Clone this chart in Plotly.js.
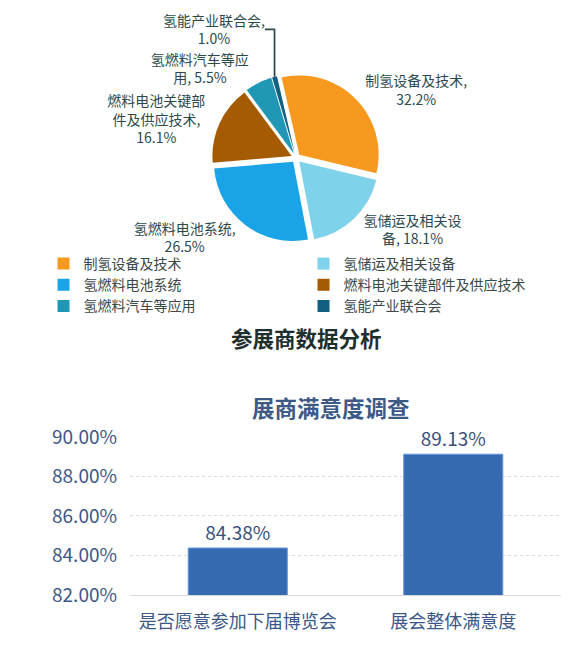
<!DOCTYPE html>
<html>
<head>
<meta charset="utf-8">
<script src="https://cdn.plot.ly/plotly-3.0.1.min.js"></script>
<style>
  html, body { margin: 0; padding: 0; background: #ffffff; }
  #chart { width: 588px; height: 659px; }
</style>
</head>
<body>
<div id="chart"></div>
<script>
  // pie: exhibitor categories (%)
  const pieNames = ['制氢设备及技术', '氢储运及相关设备', '氢燃料电池系统', '燃料电池关键部件及供应技术', '氢燃料汽车等应用', '氢能产业联合会'];
  const pieValues = [32.2, 18.1, 26.5, 16.1, 5.5, 1.0];
  // label text as it wraps in the picture (value gets appended)
  const pieLabelHeads = ['制氢设备及技术,<br>', '氢储运及相关设<br>备, ', '氢燃料电池系统,<br>', '燃料电池关键部<br>件及供应技术,<br>', '氢燃料汽车等应<br>用, ', '氢能产业联合会,<br>'];
  const pieColors = ['#f7981f', '#7ed2ea', '#1ba3e7', '#a55b02', '#2197b6', '#135f80'];

  // bar: satisfaction survey (%)
  const barCats = ['是否愿意参加下届博览会', '展会整体满意度'];
  const barValues = [84.38, 89.13];
  const yTicks = [82, 84, 86, 88, 90];

  const FONT = 'Noto Sans CJK SC, Noto Sans, sans-serif';
  const BLUE_TEXT = '#3c5887';

  const pieText = pieValues.map((v, i) => pieLabelHeads[i] + v.toFixed(1) + '%');

  const traces = [
    {
      type: 'pie',
      labels: pieNames,
      values: pieValues,
      text: pieText,
      texttemplate: '%{text}',
      textposition: 'outside',
      textfont: { family: FONT, size: 14, color: '#2c4a4b' },
      sort: false,
      direction: 'clockwise',
      rotation: -13,
      pull: 0.06,
      marker: { colors: pieColors, line: { width: 0 } },
      domain: { x: [0.3605, 0.6463], y: [0.6328, 0.8877] },
      hoverinfo: 'label+percent'
    },
    {
      type: 'bar',
      x: barCats,
      y: barValues,
      showlegend: false,
      width: 0.46,
      marker: { color: '#3569b0', line: { color: '#6b9be0', width: 1 } },
      texttemplate: '%{y:.2f}%',
      textposition: 'outside',
      cliponaxis: false,
      textfont: { family: FONT, size: 19, color: '#3a4f7c' },
      xaxis: 'x',
      yaxis: 'y'
    }
  ];

  const layout = {
    width: 588,
    height: 659,
    margin: { l: 0, r: 0, t: 0, b: 0 },
    paper_bgcolor: '#ffffff',
    plot_bgcolor: '#ffffff',
    font: { family: FONT, size: 14, color: '#333333' },
    showlegend: true,
    legend: {
      orientation: 'h',
      x: 0.074,
      xanchor: 'left',
      y: 1 - 248 / 659,
      yanchor: 'top',
      bgcolor: 'rgba(255,255,255,0)',
      entrywidthmode: 'pixels',
      entrywidth: 215,
      font: { family: FONT, size: 14, color: '#3a4848' },
      traceorder: 'normal'
    },
    xaxis: {
      domain: [0.2211, 0.9541],
      showgrid: false,
      showline: true,
      linecolor: '#d9d9d9',
      linewidth: 1,
      ticks: '',
      ticklabelstandoff: 10,
      tickfont: { family: FONT, size: 18, color: BLUE_TEXT },
      fixedrange: true
    },
    yaxis: {
      domain: [0.0971, 0.3369],
      range: [82, 90],
      tickvals: yTicks,
      ticktext: yTicks.map(v => v.toFixed(2) + '%'),
      showgrid: true,
      gridcolor: '#dcdcdc',
      griddash: 'dot',
      zeroline: false,
      showline: false,
      ticks: '',
      ticklabelstandoff: 12,
      tickfont: { family: FONT, size: 19, color: BLUE_TEXT },
      fixedrange: true
    },
    annotations: [
      {
        text: '<b>参展商数据分析</b>',
        xref: 'paper', yref: 'paper',
        x: 0.522, y: 1 - 337 / 659,
        xanchor: 'center', yanchor: 'middle',
        showarrow: false,
        font: { family: FONT, size: 21.5, color: '#1f2e2e' }
      },
      {
        text: '<b>展商满意度调查</b>',
        xref: 'paper', yref: 'paper',
        x: 331 / 588, y: 1 - 407 / 659,
        xanchor: 'center', yanchor: 'middle',
        showarrow: false,
        font: { family: FONT, size: 22.5, color: '#3d5a86' }
      }
    ]
  };

  Plotly.newPlot('chart', traces, layout, { displayModeBar: false, staticPlot: true });
</script>
</body>
</html>
